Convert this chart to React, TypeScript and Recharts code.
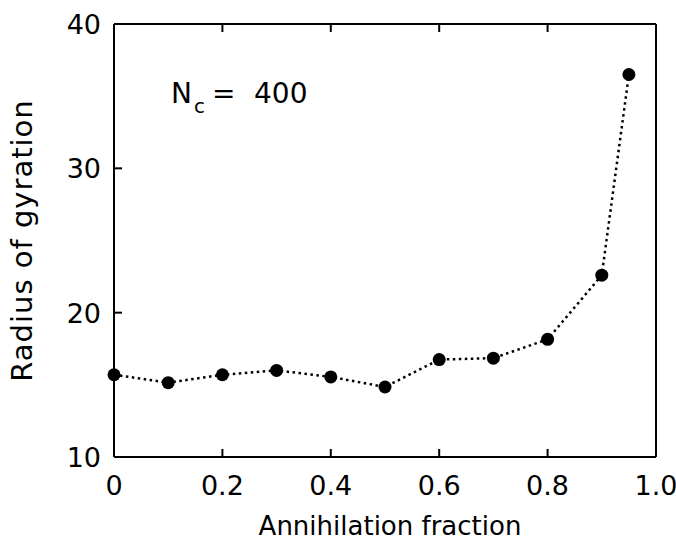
import React from 'react';
import { LineChart, Line, XAxis, YAxis, Customized, Label } from 'recharts';

// Values
const fractions = [0, 0.1, 0.2, 0.3, 0.4, 0.5, 0.6, 0.7, 0.8, 0.9, 0.95];
const radius = [15.7, 15.15, 15.7, 16.0, 15.55, 14.85, 16.75, 16.85, 18.15, 22.6, 36.5];
const xTicks = [0, 0.2, 0.4, 0.6, 0.8, 1.0];
const yTicks = [10, 20, 30, 40];

const data = fractions.map((f, i) => ({ f, r: radius[i] }));

const FONT = '"DejaVu Sans", sans-serif';
const TICK_LEN = 8;

const fmtX = (v: number) => (v === 0 ? '0' : v.toFixed(1));

const BottomTick = ({ x, y, payload }: any) => (
  <g>
    <line x1={x} y1={y} x2={x} y2={y - TICK_LEN} stroke="#000" strokeWidth={2} />
    <text x={x} y={y + 38} textAnchor="middle" fontFamily={FONT} fontSize={27} fill="#000">
      {fmtX(payload.value)}
    </text>
  </g>
);

const TopTick = ({ x, y }: any) => (
  <line x1={x} y1={y} x2={x} y2={y + TICK_LEN} stroke="#000" strokeWidth={2} />
);

const LeftTick = ({ x, y, payload }: any) => (
  <g>
    <line x1={x} y1={y} x2={x + TICK_LEN} y2={y} stroke="#000" strokeWidth={2} />
    <text x={x - 13} y={y + 10} textAnchor="end" fontFamily={FONT} fontSize={27} fill="#000">
      {payload.value}
    </text>
  </g>
);

const RightTick = ({ x, y }: any) => (
  <line x1={x} y1={y} x2={x - TICK_LEN} y2={y} stroke="#000" strokeWidth={2} />
);

const NcLabel = () => (
  <text fontFamily={FONT} fontSize={28} fill="#000">
    <tspan x={171} y={103}>N</tspan>
    <tspan x={194} y={113} fontSize={20}>c</tspan>
    <tspan x={212} y={103}>=</tspan>
    <tspan x={254} y={103}>400</tspan>
  </text>
);

export default function App() {
  return (
    <div style={{ position: 'absolute', left: 0, top: 0, background: '#fff' }}>
      <LineChart width={676} height={541} data={data} margin={{ top: 0, right: 0, bottom: 0, left: 0 }}>
        <XAxis
          dataKey="f"
          type="number"
          domain={[0, 1]}
          ticks={xTicks}
          height={84}
          tickSize={0}
          tickMargin={0}
          tick={<BottomTick />}
          axisLine={{ stroke: '#000', strokeWidth: 2 }}
          tickLine={false}
          interval={0}
        >
          <Label
            content={({ viewBox }: any) => (
              <text
                x={viewBox.x + viewBox.width / 2 + 5}
                y={viewBox.y + 78}
                textAnchor="middle"
                fontFamily={FONT}
                fontSize={26}
                fill="#000"
              >
                Annihilation fraction
              </text>
            )}
          />
        </XAxis>
        <XAxis
          xAxisId="top"
          orientation="top"
          dataKey="f"
          type="number"
          domain={[0, 1]}
          ticks={xTicks}
          height={24}
          tickSize={0}
          tickMargin={0}
          tick={<TopTick />}
          axisLine={{ stroke: '#000', strokeWidth: 2 }}
          tickLine={false}
          interval={0}
        />
        <YAxis
          type="number"
          domain={[10, 40]}
          ticks={yTicks}
          width={114}
          tickSize={0}
          tickMargin={0}
          tick={<LeftTick />}
          axisLine={{ stroke: '#000', strokeWidth: 2 }}
          tickLine={false}
          interval={0}
        >
          <Label
            content={({ viewBox }: any) => {
              const cx = viewBox.x + 22;
              const cy = viewBox.y + viewBox.height / 2;
              return (
                <text
                  x={cx}
                  y={cy}
                  transform={`rotate(-90 ${cx} ${cy})`}
                  textAnchor="middle"
                  dominantBaseline="central"
                  fontFamily={FONT}
                  fontSize={29}
                  letterSpacing={1}
                  fill="#000"
                >
                  Radius of gyration
                </text>
              );
            }}
          />
        </YAxis>
        <YAxis
          yAxisId="right"
          orientation="right"
          type="number"
          domain={[10, 40]}
          ticks={yTicks}
          width={20}
          tickSize={0}
          tickMargin={0}
          tick={<RightTick />}
          axisLine={{ stroke: '#000', strokeWidth: 2 }}
          tickLine={false}
          interval={0}
        />
        <Line
          dataKey="r"
          type="linear"
          stroke="#000"
          strokeWidth={2.5}
          strokeDasharray="2.5 3.5"
          dot={{ r: 6.5, fill: '#000', stroke: '#000', strokeWidth: 0, strokeDasharray: '' }}
          activeDot={false}
          isAnimationActive={false}
        />
        <Customized component={NcLabel} />
      </LineChart>
    </div>
  );
}
